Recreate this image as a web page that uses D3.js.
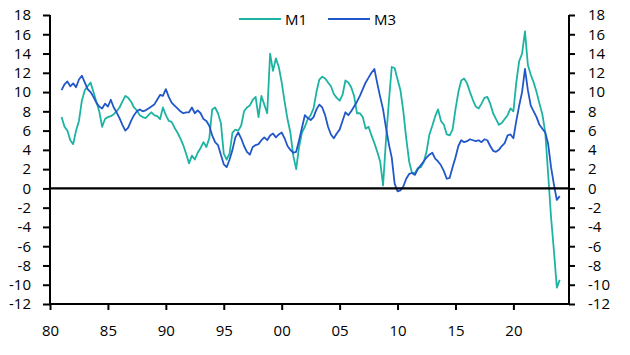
<!DOCTYPE html>
<html><head><meta charset="utf-8">
<script src="https://cdn.jsdelivr.net/npm/d3@7"></script>
<style>body{margin:0;background:#fff}svg{display:block}text{font-family:"Open Sans","Noto Sans",sans-serif;fill:#000}</style>
</head><body><svg id="c" width="630" height="355"></svg>
<script>
const startYear = 1981.0, step = 0.25;
const m3 = [10.2,10.8,11.1,10.6, 10.9,10.5,11.3,11.7, 11.0,10.3,10.0,9.5, 8.9,8.5,8.3,8.8, 8.5,9.2,8.4,7.9,
 7.3,6.6,6.0,6.3, 7.0,7.6,8.0,8.2, 8.0,8.1,8.3,8.5, 8.7,9.2,9.7,9.6, 10.3,9.5,8.9,8.6, 8.3,8.0,7.8,7.9,
 7.9,8.4,7.8,8.1, 7.8,7.2,7.0,6.5, 5.5,4.8,4.5,3.5, 2.5,2.2,3.0,4.0, 5.3,5.8,5.2,4.4, 3.8,3.5,4.3,4.5,
 4.6,5.0,5.3,5.0, 5.5,5.7,5.3,5.6, 5.8,5.2,4.4,4.0, 3.7,3.8,5.0,6.3, 7.6,7.3,7.1,7.4, 8.2,8.7,8.4,7.6,
 6.4,5.6,5.2,5.7, 6.1,7.0,7.9,7.6, 8.0,8.5,9.0,9.6, 10.3,11.0,11.5,12.0, 12.4,10.9,9.5,8.2, 6.3,4.6,3.2,0.5,
 -0.3,-0.2,0.2,1.0, 1.5,1.6,1.4,2.0, 2.4,2.8,3.2,3.5, 3.7,3.1,2.8,2.4, 1.8,1.0,1.1,2.2, 3.2,4.4,5.0,4.8,
 4.9,5.1,5.0,4.9, 5.0,4.8,5.1,5.0, 4.4,3.9,3.8,4.0, 4.4,4.7,5.5,5.6, 5.2,7.0,8.6,10.0, 12.4,10.2,8.6,8.0,
 7.4,6.6,6.2,5.8, 4.6,2.2,0.4,-1.2, -0.8];
const m1 = [7.4,6.4,6.0,5.0, 4.6,6.0,7.0,9.1, 10.2,10.6,11.0,10.0, 9.0,8.0,6.4,7.2, 7.4,7.5,7.7,8.0,
 8.4,9.0,9.6,9.4, 9.0,8.4,8.1,7.6, 7.4,7.3,7.6,7.9, 7.6,7.5,7.2,8.4, 7.6,7.0,6.9,6.3, 5.8,5.2,4.5,3.6,
 2.6,3.4,3.0,3.7, 4.2,4.8,4.3,5.2, 8.2,8.4,7.8,6.8, 3.6,3.0,3.6,5.8, 6.1,6.0,6.5,8.0, 8.4,8.6,9.2,9.5,
 7.4,9.6,8.7,7.8, 14.0,12.2,13.5,12.6, 11.0,9.0,7.2,5.8, 3.4,2.0,4.3,5.8, 6.4,7.2,7.6,8.3, 10.0,11.3,11.6,11.4,
 11.0,10.6,9.8,9.4, 9.1,9.7,11.2,11.0, 10.5,9.6,7.8,7.8, 7.4,6.2,6.4,5.5, 4.7,3.8,2.8,0.3, 5.0,9.0,12.6,12.5,
 11.3,10.2,8.0,5.2, 2.8,1.6,1.6,2.1, 2.2,2.7,3.8,5.6, 6.5,7.5,8.2,7.0, 6.6,5.6,5.5,6.1, 8.2,10.0,11.2,11.4,
 10.9,10.0,9.2,8.5, 8.3,8.8,9.4,9.5, 8.8,7.8,7.2,6.6, 6.8,7.2,7.6,8.3, 8.0,11.0,13.2,14.0, 16.3,12.8,11.8,11.0,
 10.0,8.8,7.7,5.8, 1.5,-3.0,-6.5,-10.3, -9.5];
const seriesNames = ["M1","M3"];
const seriesColors = ["#1db3a3","#2257c9"];
const xTickYears = [1980,1985,1990,1995,2000,2005,2010,2015,2020];
const xTickLabels = ["80","85","90","95","00","05","10","15","20"];
const yTicks = [18,16,14,12,10,8,6,4,2,0,-2,-4,-6,-8,-10,-12];

const svg = d3.select("#c");
const L = 50, R = 569, T = 15, B = 304;
const x = d3.scaleLinear().domain([1980, 2024.8]).range([L, R]);
const y = d3.scaleLinear().domain([-12, 18]).range([B, T]);

const toPts = arr => arr.map((v,i)=>({t:startYear+i*step, v}));
const line = d3.line().x(d=>x(d.t)).y(d=>y(d.v));
[m1, m3].forEach((arr, k)=>{
  svg.append("path").datum(toPts(arr)).attr("d", line)
    .attr("fill","none").attr("stroke", seriesColors[k]).attr("stroke-width",1.8).attr("stroke-linejoin","round");
});

svg.append("line").attr("x1",L).attr("x2",R).attr("y1",y(0)).attr("y2",y(0)).attr("stroke","#000").attr("stroke-width",2.2);

const fmt = d=>d;
const gl = svg.append("g").attr("transform",`translate(${L},0)`)
  .call(d3.axisLeft(y).tickValues(yTicks).tickSize(7).tickPadding(12).tickFormat(fmt));
const gr = svg.append("g").attr("transform",`translate(${R},0)`)
  .call(d3.axisRight(y).tickValues(yTicks).tickSize(6).tickPadding(13).tickFormat(fmt));
const gb = svg.append("g").attr("transform",`translate(0,${B})`)
  .call(d3.axisBottom(x).tickValues(xTickYears).tickSize(6).tickPadding(15).tickFormat((d,i)=>xTickLabels[i]));
[gl,gr,gb].forEach(g=>{
  g.select(".domain").remove();
  g.selectAll(".tick line").attr("stroke","#000").attr("stroke-width",2);
  g.selectAll("text").style("font-size","15px").attr("fill","#000");
});
svg.append("line").attr("x1",L).attr("x2",L).attr("y1",T).attr("y2",B+1).attr("stroke","#000").attr("stroke-width",2);
svg.append("line").attr("x1",R).attr("x2",R).attr("y1",T).attr("y2",B+1).attr("stroke","#000").attr("stroke-width",2);
svg.append("line").attr("x1",L-1).attr("x2",R+1).attr("y1",B).attr("y2",B).attr("stroke","#000").attr("stroke-width",2);

const leg = svg.append("g");
const legX = [239, 328];
seriesNames.forEach((n,k)=>{
  leg.append("line").attr("x1",legX[k]).attr("x2",legX[k]+42).attr("y1",19).attr("y2",19)
    .attr("stroke",seriesColors[k]).attr("stroke-width",2);
  leg.append("text").attr("x",legX[k]+46).attr("y",24.5).style("font-size","15px").text(n);
});
</script></body></html>
